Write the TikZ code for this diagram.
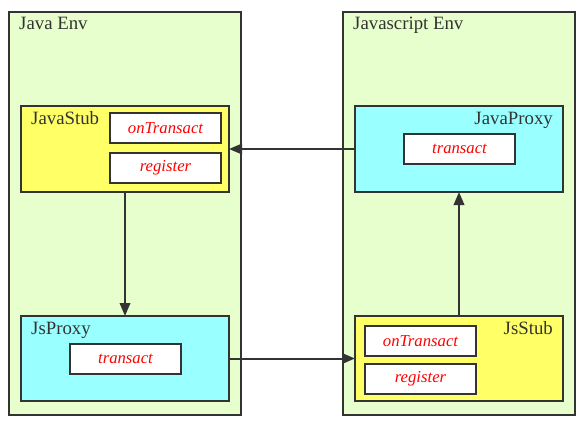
\documentclass[tikz,border=0pt]{standalone}
\usepackage{fontspec}
\setmainfont{Liberation Serif}
\usetikzlibrary{arrows.meta}
\definecolor{envgreen}{HTML}{E6FFCC}
\definecolor{stubyellow}{HTML}{FFFF66}
\definecolor{proxycyan}{HTML}{99FFFF}
\definecolor{edge}{HTML}{333333}
\begin{document}
\begin{tikzpicture}[x=1pt,y=-1pt,
  box/.style={draw=edge,line width=2pt,inner sep=0pt,outer sep=0pt},
  envbox/.style={box,fill=envgreen,minimum width=232pt,minimum height=403pt},
  compbox/.style={box,minimum width=208pt},
  method/.style={box,fill=white,minimum width=111pt,minimum height=30pt,
    font=\fontsize{16.7}{18}\selectfont\itshape,text=red},
  title/.style={inner sep=0pt,font=\fontsize{18.8}{20}\selectfont,text=edge},
  conn/.style={draw=edge,line width=2pt,-{Triangle[length=13pt,width=10.5pt]}}]
\useasboundingbox[fill=white] (0,0) rectangle (588,428);
% environments
\node[envbox] (javaenv) at (125,213.5) {};
\node[envbox] (jsenv) at (459,213.5) {};
\node[title,anchor=base west] (javaenvlbl) at (19,30) {Java Env};
\node[title,anchor=base west] (jsenvlbl) at (353,30) {Javascript Env};
% Java side
\node[compbox,fill=stubyellow,minimum height=86pt] (javastub) at (125,149) {};
\node[title,anchor=base west] (javastublbl) at (31,124) {JavaStub};
\node[method] (ontr1) at (165.5,128) {onTransact};
\node[method] (reg1) at (165.5,168) {register};
\node[compbox,fill=proxycyan,minimum height=85pt] (jsproxy) at (125,358.5) {};
\node[title,anchor=base west] (jsproxylbl) at (31,334) {JsProxy};
\node[method] (tr1) at (125.5,359) {transact};
% JS side
\node[compbox,fill=proxycyan,minimum height=86pt] (javaproxy) at (459,149) {};
\node[title,anchor=base east] (javaproxylbl) at (553,124) {JavaProxy};
\node[method] (tr2) at (459.5,149) {transact};
\node[compbox,fill=stubyellow,minimum height=85pt] (jsstub) at (459,358.5) {};
\node[title,anchor=base east] (jsstublbl) at (553,334) {JsStub};
\node[method] (ontr2) at (420.5,341) {onTransact};
\node[method] (reg2) at (420.5,379) {register};
% connectors
\draw[conn] (javaproxy.west) -- (javastub.east);
\draw[conn] (javastub.south) -- (jsproxy.north);
\draw[conn] (jsproxy.east) -- (jsstub.west |- jsproxy.east);
\draw[conn] (jsstub.north) -- (javaproxy.south);
\end{tikzpicture}
\end{document}
